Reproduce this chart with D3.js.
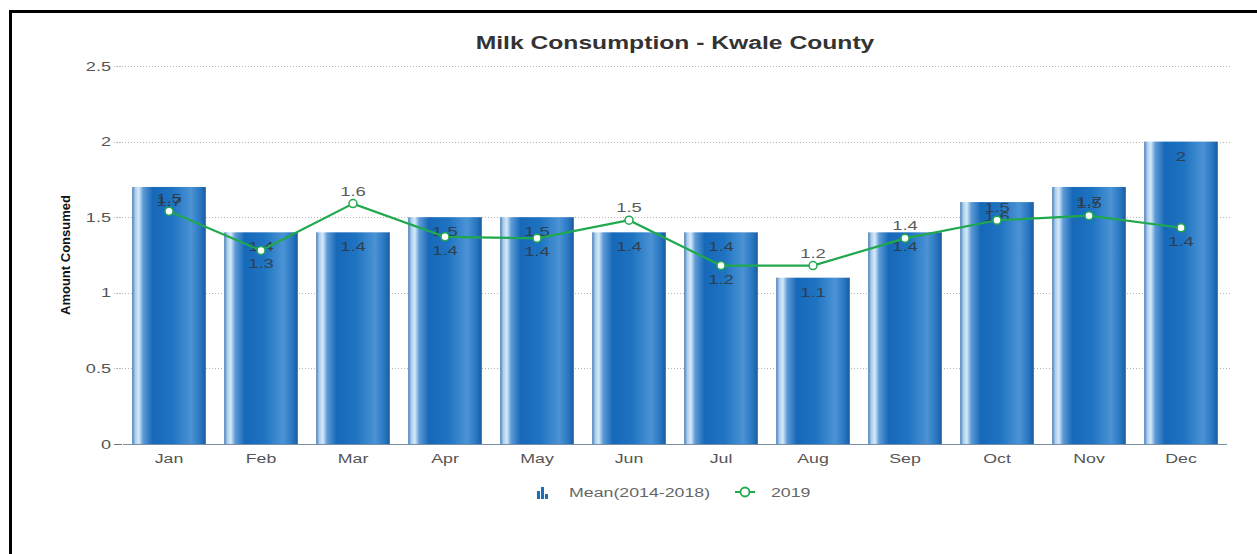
<!DOCTYPE html>
<html>
<head>
<meta charset="utf-8">
<script src="https://cdn.jsdelivr.net/npm/d3@7/dist/d3.min.js"></script>
<style>
  html, body { margin: 0; padding: 0; background: #fff; }
  svg { display: block; font-family: "Liberation Sans", Arial, Helvetica, sans-serif; }
</style>
</head>
<body>
<svg id="chart" width="1257" height="554"></svg>
<script>
const months = ["Jan","Feb","Mar","Apr","May","Jun","Jul","Aug","Sep","Oct","Nov","Dec"];
const meanValues = [1.7, 1.4, 1.4, 1.5, 1.5, 1.4, 1.4, 1.1, 1.4, 1.6, 1.7, 2.0];
const values2019 = [1.54, 1.28, 1.59, 1.37, 1.36, 1.48, 1.18, 1.18, 1.36, 1.48, 1.51, 1.43];
const yTicks = [0, 0.5, 1, 1.5, 2, 2.5];
const seriesNames = ["Mean(2014-2018)", "2019"];

(function () {
const svg = d3.select("#chart");
const W = 1257, H = 554;
const pLeft = 123, pRight = 1227, pTop = 66, pBottom = 444;
const STRETCH = 1.42;

function stretch(sel, f) {
  sel.each(function () {
    const l = this.getComputedTextLength();
    d3.select(this).attr("textLength", l * f).attr("lengthAdjust", "spacingAndGlyphs");
  });
}

// frame
svg.append("rect").attr("x", 10.5).attr("y", 11.5).attr("width", W + 20).attr("height", H + 20)
  .attr("fill", "none").attr("stroke", "#000").attr("stroke-width", 3);

const defs = svg.append("defs");
const grad = defs.append("linearGradient").attr("id", "barGrad").attr("x1", "0%").attr("x2", "100%").attr("y1", "0%").attr("y2", "0%");
[["0%", "#3f78b0"], ["4%", "#a9cdee"], ["9%", "#d6e9f8"], ["15%", "#5d9bd6"], ["28%", "#1668b8"],
 ["55%", "#1f74c2"], ["80%", "#4b93d4"], ["92%", "#2a78c4"], ["100%", "#1a5c9e"]]
  .forEach(([o, c]) => grad.append("stop").attr("offset", o).attr("stop-color", c));

const x = d3.scaleBand().domain(months).range([pLeft, pRight]).paddingInner(0.2).paddingOuter(0.1);
const y = d3.scaleLinear().domain([0, 2.5]).range([pBottom, pTop]);

// grid
svg.append("g").selectAll("line").data(yTicks.filter(t => t > 0)).join("line")
  .attr("x1", 116).attr("x2", 1230)
  .attr("y1", d => Math.round(y(d)) + 0.5).attr("y2", d => Math.round(y(d)) + 0.5)
  .attr("stroke", "#b5b5b5").attr("stroke-width", 1).attr("stroke-dasharray", "1,2");

// y axis labels
const yAxis = d3.axisLeft(y).tickValues(yTicks).tickSize(0).tickPadding(0).tickFormat(d3.format("~g"));
const yg = svg.append("g").attr("transform", `translate(111,0)`).call(yAxis);
yg.select(".domain").remove();
yg.selectAll("text").attr("fill", "#555").attr("font-size", 12.5);
stretch(yg.selectAll("text"), 1.45);

// small tick marks left of plot
svg.append("g").selectAll("line").data(yTicks).join("line")
  .attr("x1", 114).attr("x2", 122)
  .attr("y1", d => Math.round(y(d)) + 0.5).attr("y2", d => Math.round(y(d)) + 0.5)
  .attr("stroke", d => d === 0 ? "#777" : "#bbb").attr("stroke-width", 1)
  .attr("stroke-dasharray", d => d === 0 ? null : "1,2");

// y title
svg.append("text").attr("transform", `translate(70,${(pTop + pBottom) / 2}) rotate(-90)`)
  .attr("text-anchor", "middle").attr("font-size", 13).attr("font-weight", "bold")
  .attr("fill", "#111").attr("textLength", 120).attr("lengthAdjust", "spacingAndGlyphs")
  .text("Amount Consumed");

// title
const title = svg.append("text").attr("x", 675).attr("y", 49).attr("text-anchor", "middle")
  .attr("font-size", 18).attr("font-weight", "bold").attr("fill", "#333")
  .text("Milk Consumption - Kwale County");
stretch(title, 1.37);

// bars
svg.append("g").selectAll("rect").data(months).join("rect")
  .attr("x", d => x(d)).attr("width", x.bandwidth())
  .attr("y", (d, i) => y(meanValues[i])).attr("height", (d, i) => pBottom - y(meanValues[i]))
  .attr("fill", "url(#barGrad)");

// x axis
const xAxis = d3.axisBottom(x).tickSize(0).tickPadding(10);
const xg = svg.append("g").attr("transform", `translate(0,${pBottom})`).call(xAxis);
xg.select(".domain").attr("d", `M${pLeft},0.5H${pRight}`).attr("stroke", "#7a8ea8");
xg.selectAll("text").attr("fill", "#555").attr("font-size", 12.5);
stretch(xg.selectAll("text"), STRETCH);

// bar labels
const bl = svg.append("g").selectAll("text").data(months).join("text")
  .attr("x", d => x(d) + x.bandwidth() / 2)
  .attr("y", (d, i) => y(meanValues[i]) + 19)
  .attr("text-anchor", "middle").attr("font-size", 13).attr("fill", "#333").attr("opacity", 0.8)
  .text((d, i) => d3.format("~g")(meanValues[i]));
stretch(bl, STRETCH);

// line
const cx = d => x(d) + x.bandwidth() / 2;
const line = d3.line().x((d, i) => cx(months[i])).y(d => y(d));
svg.append("path").datum(values2019).attr("d", line)
  .attr("fill", "none").attr("stroke", "#20a84e").attr("stroke-width", 2.2);

svg.append("g").selectAll("circle").data(values2019).join("circle")
  .attr("cx", (d, i) => cx(months[i])).attr("cy", d => y(d)).attr("r", 4)
  .attr("fill", "#fff").attr("stroke", "#20a84e").attr("stroke-width", 1.5);

// line labels: below when value drops from previous month, else above
const ll = svg.append("g").selectAll("text").data(values2019).join("text")
  .attr("x", (d, i) => cx(months[i]))
  .attr("y", (d, i) => (i > 0 && d < values2019[i - 1]) ? y(d) + 18 : y(d) - 8)
  .attr("text-anchor", "middle").attr("font-size", 13).attr("fill", "#333").attr("opacity", 0.8)
  .text(d => d3.format(".1f")(d));
stretch(ll, STRETCH);

// legend
const lg = svg.append("g");
const bx = 537, by = 487;
[[0, 4, 8], [4, 0, 12], [8, 7, 5]].forEach(([dx, dy, h]) =>
  lg.append("rect").attr("x", bx + dx).attr("y", by + dy).attr("width", 3).attr("height", h).attr("fill", "#1a6fb8"));
const lt1 = lg.append("text").attr("x", 569).attr("y", 497).attr("font-size", 12.5).attr("fill", "#666").text(seriesNames[0]);
lg.append("line").attr("x1", 735).attr("x2", 755).attr("y1", 492).attr("y2", 492).attr("stroke", "#20a84e").attr("stroke-width", 2);
lg.append("circle").attr("cx", 745).attr("cy", 492).attr("r", 4.5).attr("fill", "#fff").attr("stroke", "#20a84e").attr("stroke-width", 1.8);
const lt2 = lg.append("text").attr("x", 771).attr("y", 497).attr("font-size", 12.5).attr("fill", "#666").text(seriesNames[1]);
stretch(lt1, 1.42);
stretch(lt2, 1.42);
})();
</script>
</body>
</html>
